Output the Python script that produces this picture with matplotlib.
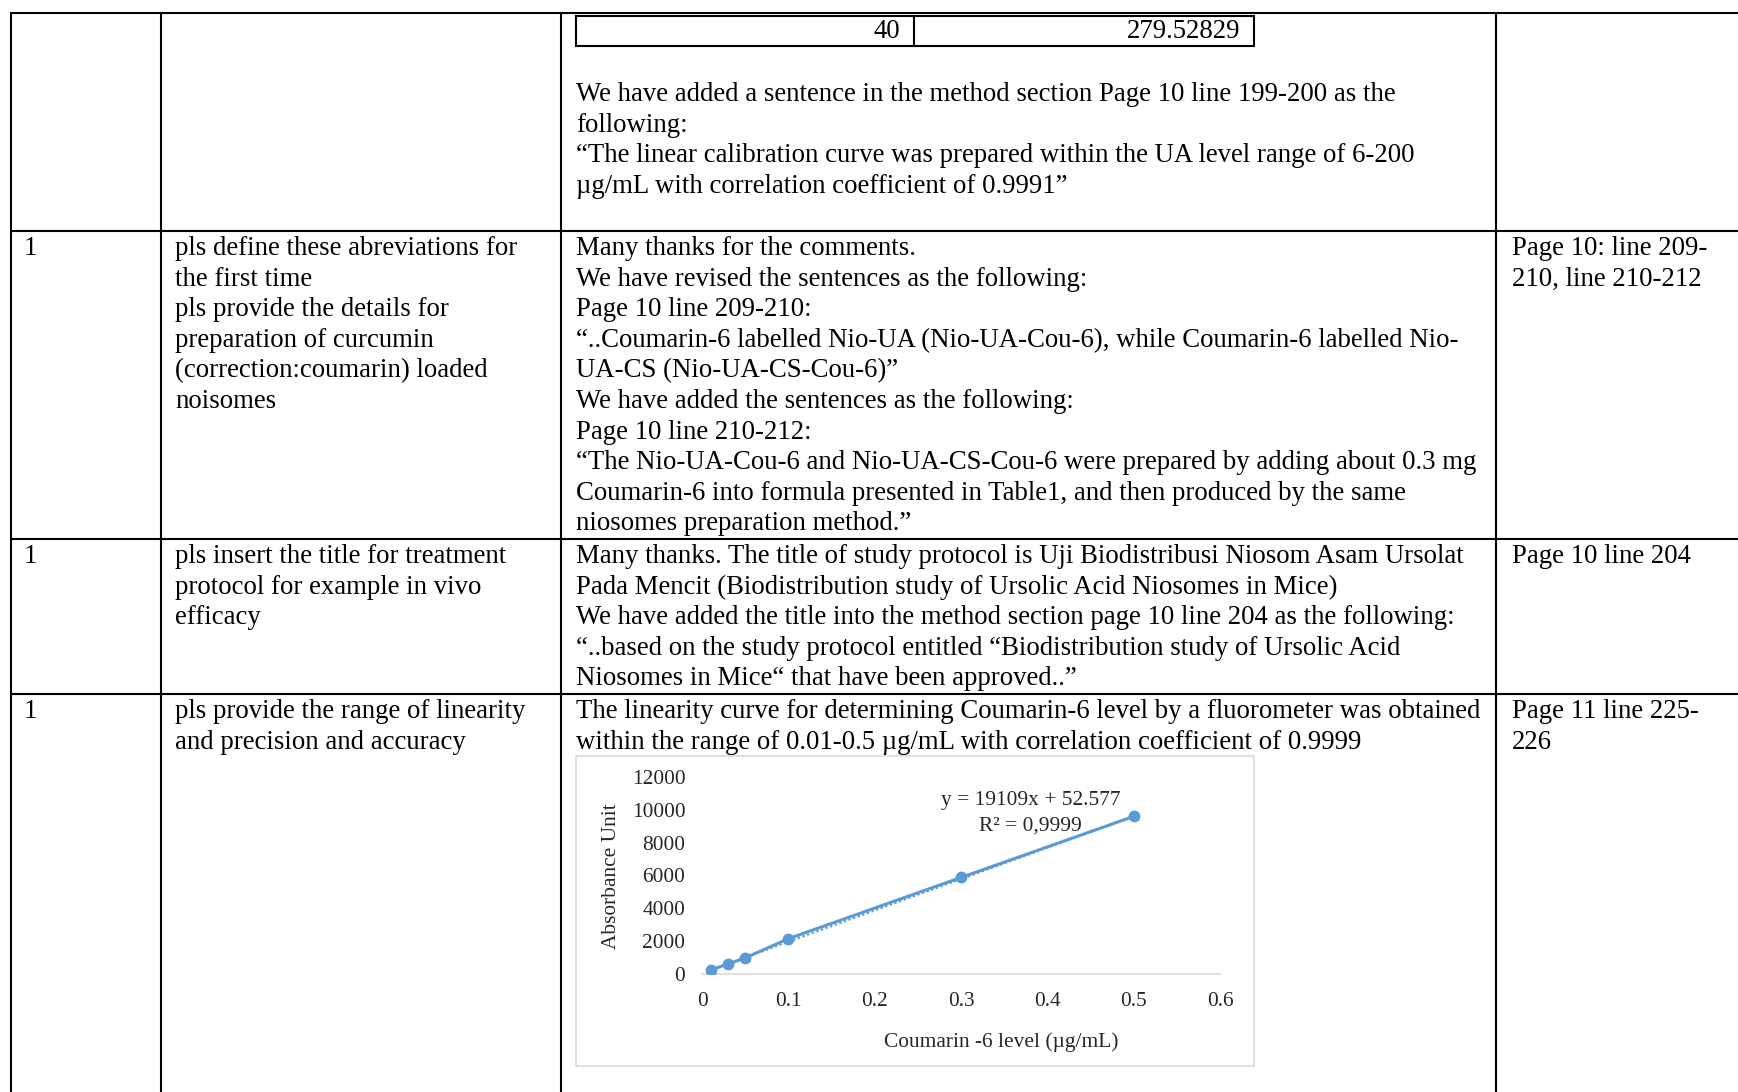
import matplotlib
matplotlib.use("Agg")
import matplotlib.pyplot as plt
from matplotlib.patches import Rectangle

# Calibration data for Coumarin-6 (fluorometer)
conc = [0.01, 0.03, 0.05, 0.1, 0.3, 0.5]
signal = [250, 600, 980, 2150, 5880, 9600]
slope, intercept = 19109, 52.577
r2_text = "0,9999"
x_ticks = [0, 0.1, 0.2, 0.3, 0.4, 0.5, 0.6]
x_tick_labels = ["0", "0.1", "0.2", "0.3", "0.4", "0.5", "0.6"]
y_ticks = [0, 2000, 4000, 6000, 8000, 10000, 12000]
y_tick_labels = ["0", "2000", "4000", "6000", "8000", "10000", "12000"]

# Table text
top_small_table = ["40", "279.52829"]
row1_response = [
    "We have added a sentence in the method section Page 10 line 199-200 as the",
    "following:",
    "\u201cThe linear calibration curve was prepared within the UA level range of 6-200",
    "\u00b5g/mL with correlation coefficient of 0.9991\u201d",
]
row2_no = "1"
row2_comment = [
    "pls define these abreviations for",
    "the first time",
    "pls provide the details for",
    "preparation of curcumin",
    "(correction:coumarin) loaded",
    "noisomes",
]
row2_response = [
    "Many thanks for the comments.",
    "We have revised the sentences as the following:",
    "Page 10 line 209-210:",
    "\u201c..Coumarin-6 labelled Nio-UA (Nio-UA-Cou-6), while Coumarin-6 labelled Nio-",
    "UA-CS (Nio-UA-CS-Cou-6)\u201d",
    "We have added the sentences as the following:",
    "Page 10 line 210-212:",
    "\u201cThe Nio-UA-Cou-6 and Nio-UA-CS-Cou-6 were prepared by adding about 0.3 mg",
    "Coumarin-6 into formula presented in Table1, and then produced by the same",
    "niosomes preparation method.\u201d",
]
row2_page = ["Page 10: line 209-", "210, line 210-212"]
row3_no = "1"
row3_comment = [
    "pls insert the title for treatment",
    "protocol for example in vivo",
    "efficacy",
]
row3_response = [
    "Many thanks. The title of study protocol is Uji Biodistribusi Niosom Asam Ursolat",
    "Pada Mencit (Biodistribution study of Ursolic Acid Niosomes in Mice)",
    "We have added the title into the method section page 10 line 204 as the following:",
    "\u201c..based on the study protocol entitled \u201cBiodistribution study of Ursolic Acid",
    "Niosomes in Mice\u201c that have been approved..\u201d",
]
row3_page = ["Page 10 line 204"]
row4_no = "1"
row4_comment = [
    "pls provide the range of linearity",
    "and precision and accuracy",
]
row4_response = [
    "The linearity curve for determining Coumarin-6 level by a fluorometer was obtained",
    "within the range of 0.01-0.5 \u00b5g/mL with correlation coefficient of 0.9999",
]
row4_page = ["Page 11 line 225-", "226"]

W, H = 1738, 1092
FONT = "Liberation Serif"
BODY = 19.25
SMALL = 15.4
PITCH = 30.6
INK = "#262626"

fig = plt.figure(figsize=(W / 100, H / 100), dpi=100)
page = fig.add_axes([0, 0, 1, 1])
page.set_xlim(0, W)
page.set_ylim(H, 0)
page.axis("off")

LW = 1.5
def hline(y, x0, x1, lw=LW, color="black"):
    page.plot([x0, x1], [y, y], color=color, lw=lw, solid_capstyle="butt")

def vline(x, y0, y1, lw=LW, color="black"):
    page.plot([x, x], [y0, y1], color=color, lw=lw, solid_capstyle="butt")

# Outer table grid
cols = [11, 161, 561, 1496]
rows = [13, 231, 539, 694]
for y in rows:
    hline(y, cols[0] - 1, W)
for x in cols:
    vline(x, rows[0], H)

# Small embedded table at the top of the response column
page.add_patch(Rectangle((576, 16), 1254 - 576, 46 - 16, fill=False, lw=LW, ec="black"))
vline(914, 16, 46)

def write(lines, x, y_first, ha="left", size=BODY):
    for i, s in enumerate(lines):
        page.text(x, y_first + i * PITCH + 8, s, ha=ha, va="baseline",
                  fontsize=size, family=FONT, color="black")

write([top_small_table[0]], 900, 30, ha="right")
write([top_small_table[1]], 1240, 30, ha="right")
write(row1_response, 576, 93)

write([row2_no], 24, 247)
write(row2_comment, 175, 247)
write(row2_response, 576, 247)
write(row2_page, 1512, 247)

write([row3_no], 24, 555)
write(row3_comment, 175, 555)
write(row3_response, 576, 555)
write(row3_page, 1512, 555)

write([row4_no], 24, 710)
write(row4_comment, 175, 710)
write(row4_response, 576, 710)
write(row4_page, 1512, 710)

# Chart frame
page.add_patch(Rectangle((576, 756), 1254 - 576, 1066 - 756, fill=True,
                         fc="white", lw=1.2, ec="#D9D9D9"))

# Calibration chart
px0, px1, py0, py1 = 702, 1220, 974, 777
cax = fig.add_axes([px0 / W, 1 - py0 / H, (px1 - px0) / W, (py0 - py1) / H])
cax.patch.set_alpha(0)
blue = "#5B9BD5"
cax.plot(conc, signal, color=blue, lw=2.2, marker="o", ms=7.5, mec=blue, mfc=blue, zorder=3)
tx = [conc[0], conc[-1]]
cax.plot(tx, [slope * v + intercept for v in tx], color=blue, lw=1.6, ls=(0, (1, 1.2)), zorder=2)
cax.set_xlim(0, 0.6)
cax.set_ylim(0, 12000)
cax.set_xticks(x_ticks)
cax.set_xticklabels(x_tick_labels)
cax.set_yticks(y_ticks)
cax.set_yticklabels(y_tick_labels)
for sp in ("top", "right", "left"):
    cax.spines[sp].set_visible(False)
cax.spines["bottom"].set_color("#D9D9D9")
cax.spines["bottom"].set_linewidth(1.2)
cax.tick_params(axis="both", length=0, labelsize=SMALL, colors=INK)
cax.tick_params(axis="x", pad=13)
cax.tick_params(axis="y", pad=12)
for lab in cax.get_xticklabels() + cax.get_yticklabels():
    lab.set_family(FONT)

page.text(611, 876, "Absorbance Unit", rotation=90, ha="center", va="center",
          fontsize=SMALL, family=FONT, color=INK)
page.text(1001, 1042, "Coumarin -6 level (\u00b5g/mL)", ha="center", va="center",
          fontsize=SMALL, family=FONT, color=INK)
page.text(1031, 800, f"y = {slope}x + {intercept}", ha="center", va="center",
          fontsize=SMALL, family=FONT, color=INK)
page.text(1030, 826, f"R\u00b2 = {r2_text}", ha="center", va="center",
          fontsize=SMALL, family=FONT, color=INK)

fig.savefig("out.png", dpi=100, facecolor="white")
